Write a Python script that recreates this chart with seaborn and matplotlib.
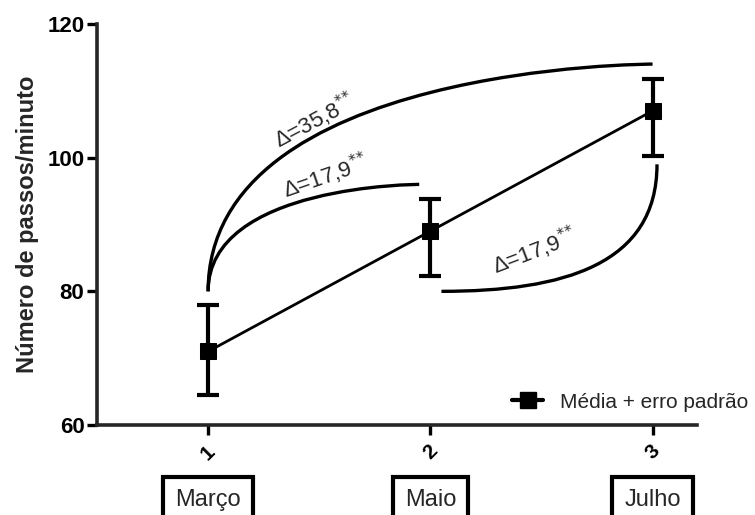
import matplotlib
matplotlib.use("Agg")
import matplotlib.pyplot as plt
import matplotlib.transforms as mtransforms
from matplotlib.path import Path
from matplotlib.patches import PathPatch
from matplotlib.lines import Line2D
import seaborn as sns
import pandas as pd

# data
sessions = [1, 2, 3]
months = ["Março", "Maio", "Julho"]
means = [71.0, 89.0, 107.0]
err_low = [6.5, 6.7, 6.7]
err_high = [7.0, 4.8, 4.7]

# significance annotations (label, curve control points, text position, angle)
delta_labels = ["35,8", "17,9", "17,9"]
delta_curves = [
    [(1.0, 80), (1.0, 114), (3.0, 114), (3.0, 114)],
    [(1.0, 80), (1.0, 96), (1.95, 96), (1.95, 96)],
    [(2.05, 80), (2.6, 80), (3.02, 84), (3.02, 99)],
]
delta_text_xy = [(1.48, 105.6), (1.53, 97.2), (2.47, 86.0)]
delta_angles = [28, 19, 21]

sns.set_style("ticks")
plt.rcParams["font.family"] = ["Liberation Sans", "DejaVu Sans"]

fig = plt.figure(figsize=(7.55, 5.15), dpi=100)
ax = fig.add_axes([97 / 755, 90 / 515, 600 / 755, 401 / 515])

df = pd.DataFrame({"sessao": sessions, "media": means})
sns.lineplot(data=df, x="sessao", y="media", color="black", lw=2,
             marker="s", markersize=11, markeredgecolor="black", ax=ax)
ax.errorbar(sessions, means, yerr=[err_low, err_high], fmt="none",
            ecolor="black", elinewidth=3, capsize=8, capthick=3)

for pts in delta_curves:
    path = Path(pts, [Path.MOVETO, Path.CURVE4, Path.CURVE4, Path.CURVE4])
    ax.add_patch(PathPatch(path, facecolor="none", edgecolor="black", lw=2.4))

for lab, (tx, ty), ang in zip(delta_labels, delta_text_xy, delta_angles):
    ax.text(tx, ty, "Δ=" + lab + r"$^{*\!*}$", rotation=ang, fontsize=16,
            ha="center", va="center", rotation_mode="anchor")

ax.set_xlim(0.5, 3.2)
ax.set_ylim(60, 120)
ax.set_yticks([60, 80, 100, 120])
ax.set_xticks(sessions)
ax.set_xticklabels([str(s) for s in sessions], rotation=45, fontsize=15,
                   fontweight="bold", ha="center")
for lbl in ax.get_yticklabels():
    lbl.set_fontsize(16)
    lbl.set_fontweight("bold")
ax.set_xlabel("")
ax.set_ylabel("Número de passos/minuto", fontsize=17, fontweight="bold",
              labelpad=6)

sns.despine(ax=ax)
for side in ["left", "bottom"]:
    ax.spines[side].set_linewidth(2.6)
ax.tick_params(axis="both", width=2.4, length=7, direction="out", colors="black")
ax.tick_params(axis="x", pad=5)
ax.tick_params(axis="y", pad=2)

trans = mtransforms.blended_transform_factory(ax.transData, ax.transAxes)
for s, m in zip(sessions, months):
    ax.text(s, -0.187, m, transform=trans, fontsize=17, ha="center",
            va="center", clip_on=False,
            bbox=dict(boxstyle="square,pad=0.5", facecolor="white",
                      edgecolor="black", lw=3))

handle = Line2D([], [], color="black", lw=3, marker="s", markersize=11)
fig.legend([handle], ["Média + erro padrão"], loc="center left",
           bbox_to_anchor=(512 / 755, 113 / 515), frameon=False, fontsize=15,
           handlelength=1.5, handletextpad=0.8, borderpad=0, borderaxespad=0)

fig.savefig("out.png", dpi=100)
